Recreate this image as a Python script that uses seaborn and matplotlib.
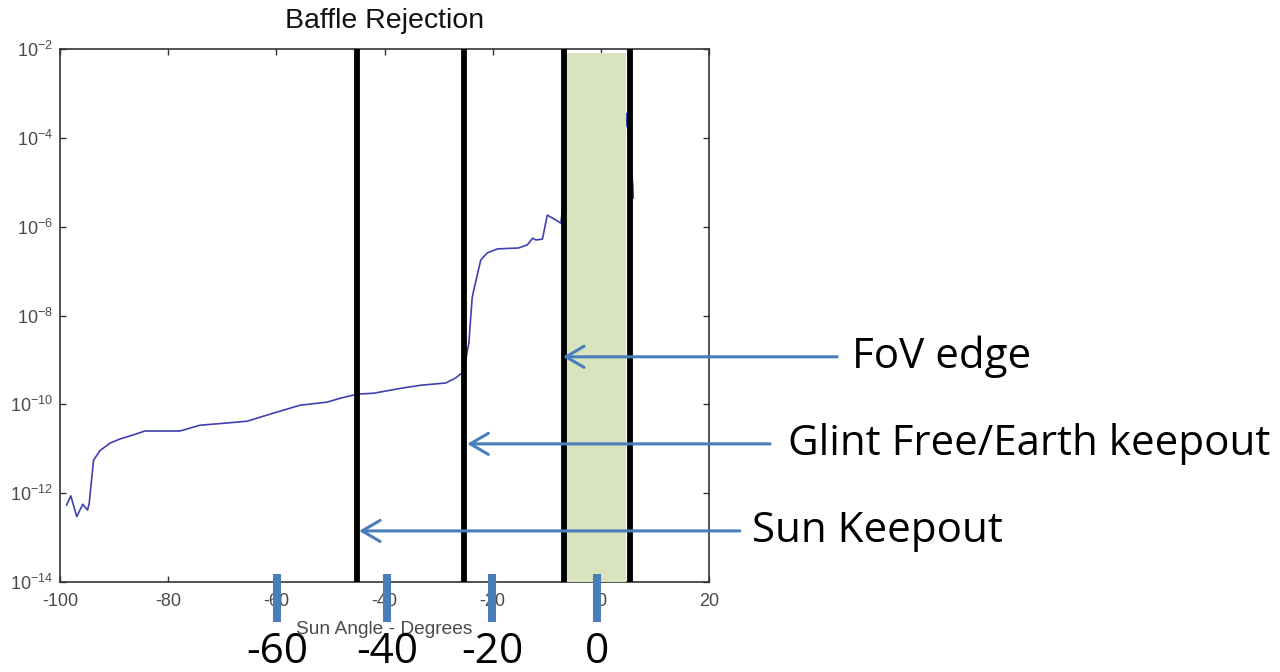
import numpy as np
import pandas as pd
import matplotlib
matplotlib.use("Agg")
import matplotlib.pyplot as plt
import matplotlib.transforms as mtransforms
import seaborn as sns

# ---------------- data ----------------
sun_angle = [-98.8, -98.0, -96.9, -95.8, -94.9, -94.6, -93.8, -92.6, -90.7, -88.9,
             -86.5, -84.3, -77.8, -74.1, -69.1, -65.4, -60.6, -55.6, -50.6, -48.1,
             -45.0, -42.0, -37.0, -33.3, -28.7, -26.9, -25.4, -24.4, -23.8, -23.5,
             -22.2, -21.0, -19.1, -15.2, -13.6, -12.6, -12.0, -10.8, -9.9, -8.6,
             -7.4, -7.1, 4.6, 4.75, 5.9, 6.0]
log10_rejection = [-12.27, -12.06, -12.53, -12.25, -12.38, -12.23, -11.26, -11.04, -10.87, -10.78,
                   -10.69, -10.60, -10.60, -10.47, -10.42, -10.38, -10.20, -10.02, -9.95, -9.86,
                   -9.77, -9.75, -9.64, -9.57, -9.52, -9.41, -9.27, -8.62, -7.61, -7.43,
                   -6.75, -6.59, -6.50, -6.48, -6.41, -6.26, -6.30, -6.28, -5.74, -5.83,
                   -5.92, -5.63, -3.75, -3.45, -5.05, -5.36]

boundary_angles = [-45.1, -25.3, -6.8, 5.4]          # thick black lines
fov_band = (-6.8, 4.7)                                # green field-of-view band

x_ticks = [-100, -80, -60, -40, -20, 0, 20]
y_exponents = [-14, -12, -10, -8, -6, -4, -2]

new_tick_pos = [-59.9, -39.5, -20.1, -0.7]
new_tick_labels = ["-60", "-40", "-20", "0"]

annotations = ["FoV edge", "Glint Free/Earth keepout", "Sun Keepout"]
annot_tip_x = [-7.0, -24.7, -44.7]
annot_tail_x = [43.7, 31.3, 25.7]
annot_text_x = [46.4, 34.6, 28.0]
annot_log_y = [-8.93, -10.89, -12.85]

# ---------------- style ----------------
sns.set_style("white")
plt.rcParams["font.family"] = ["Liberation Sans", "DejaVu Sans"]
plt.rcParams["mathtext.fontset"] = "custom"
plt.rcParams["mathtext.rm"] = "Liberation Sans"
plt.rcParams["mathtext.it"] = "Liberation Sans"

W, H = 1280, 672
fig = plt.figure(figsize=(W / 100, H / 100), dpi=100)
ax = fig.add_axes([60 / W, 1 - 582 / H, (709 - 60) / W, (582 - 49) / H])

df = pd.DataFrame({"angle": sun_angle,
                   "rejection": 10.0 ** np.array(log10_rejection)})

sns.lineplot(data=df, x="angle", y="rejection", ax=ax, color="#4040b0",
             linewidth=1.2, zorder=2, sort=False)

ax.set_yscale("log")
ax.set_xlim(-100, 20)
ax.set_ylim(1e-14, 1e-2)

# green FoV band (above curve, below black lines)
ax.axvspan(fov_band[0], fov_band[1], ymin=0, ymax=0.993, color="#d7e4bd", zorder=3, lw=0)
for xb in boundary_angles:
    ax.axvline(xb, color="black", lw=4.2, zorder=4, solid_capstyle="butt")

# ticks
ax.set_xticks(x_ticks)
ax.set_xticklabels([str(t) for t in x_ticks])
ax.set_yticks([10.0 ** e for e in y_exponents])
ax.set_yticklabels([r"$10^{%d}$" % e for e in y_exponents])
ax.yaxis.set_minor_locator(matplotlib.ticker.NullLocator())
ax.tick_params(axis="both", which="major", direction="in", length=4, width=1,
               color="#333333", labelcolor="#4a4a4a", labelsize=13,
               top=True, right=True, bottom=True, left=True)
ax.tick_params(axis="x", pad=8)
ax.tick_params(axis="y", pad=5)
for sp in ax.spines.values():
    sp.set_color("#333333")
    sp.set_linewidth(1.2)

ax.set_xlabel("Sun Angle - Degrees", fontsize=13.8, color="#4a4a4a", labelpad=8)
ax.set_ylabel("")
ax.set_title("Baffle Rejection", fontsize=20.5, color="#111111", pad=15)

# overlay: blue tick bars + large labels below the axis
trans = mtransforms.blended_transform_factory(ax.transData, ax.transAxes)
for xp, lab in zip(new_tick_pos, new_tick_labels):
    ax.plot([xp, xp], [0.015, -0.075], transform=trans, color="#4a7ebb",
            lw=5.8, solid_capstyle="butt", clip_on=False, zorder=6)
    ax.text(xp, -0.131, lab, transform=trans, ha="center", va="center",
            fontsize=30.5, family=["Open Sans", "DejaVu Sans"], color="black",
            clip_on=False)

# overlay: arrows with labels
for text, tip, tail, tx, ly in zip(annotations, annot_tip_x, annot_tail_x,
                                    annot_text_x, annot_log_y):
    yv = 10.0 ** ly
    ax.annotate("", xy=(tip, yv), xytext=(tail, yv), xycoords="data",
                textcoords="data", annotation_clip=False,
                arrowprops=dict(arrowstyle="->,head_length=0.65,head_width=0.38",
                                mutation_scale=20, color="#4a7ebb", lw=2.2,
                                shrinkA=0, shrinkB=0),
                zorder=7)
    ax.text(tx, yv, text, ha="left", va="center", fontsize=30.3,
            family=["Open Sans", "DejaVu Sans"], color="black", clip_on=False)

fig.savefig("out.png", dpi=100)
